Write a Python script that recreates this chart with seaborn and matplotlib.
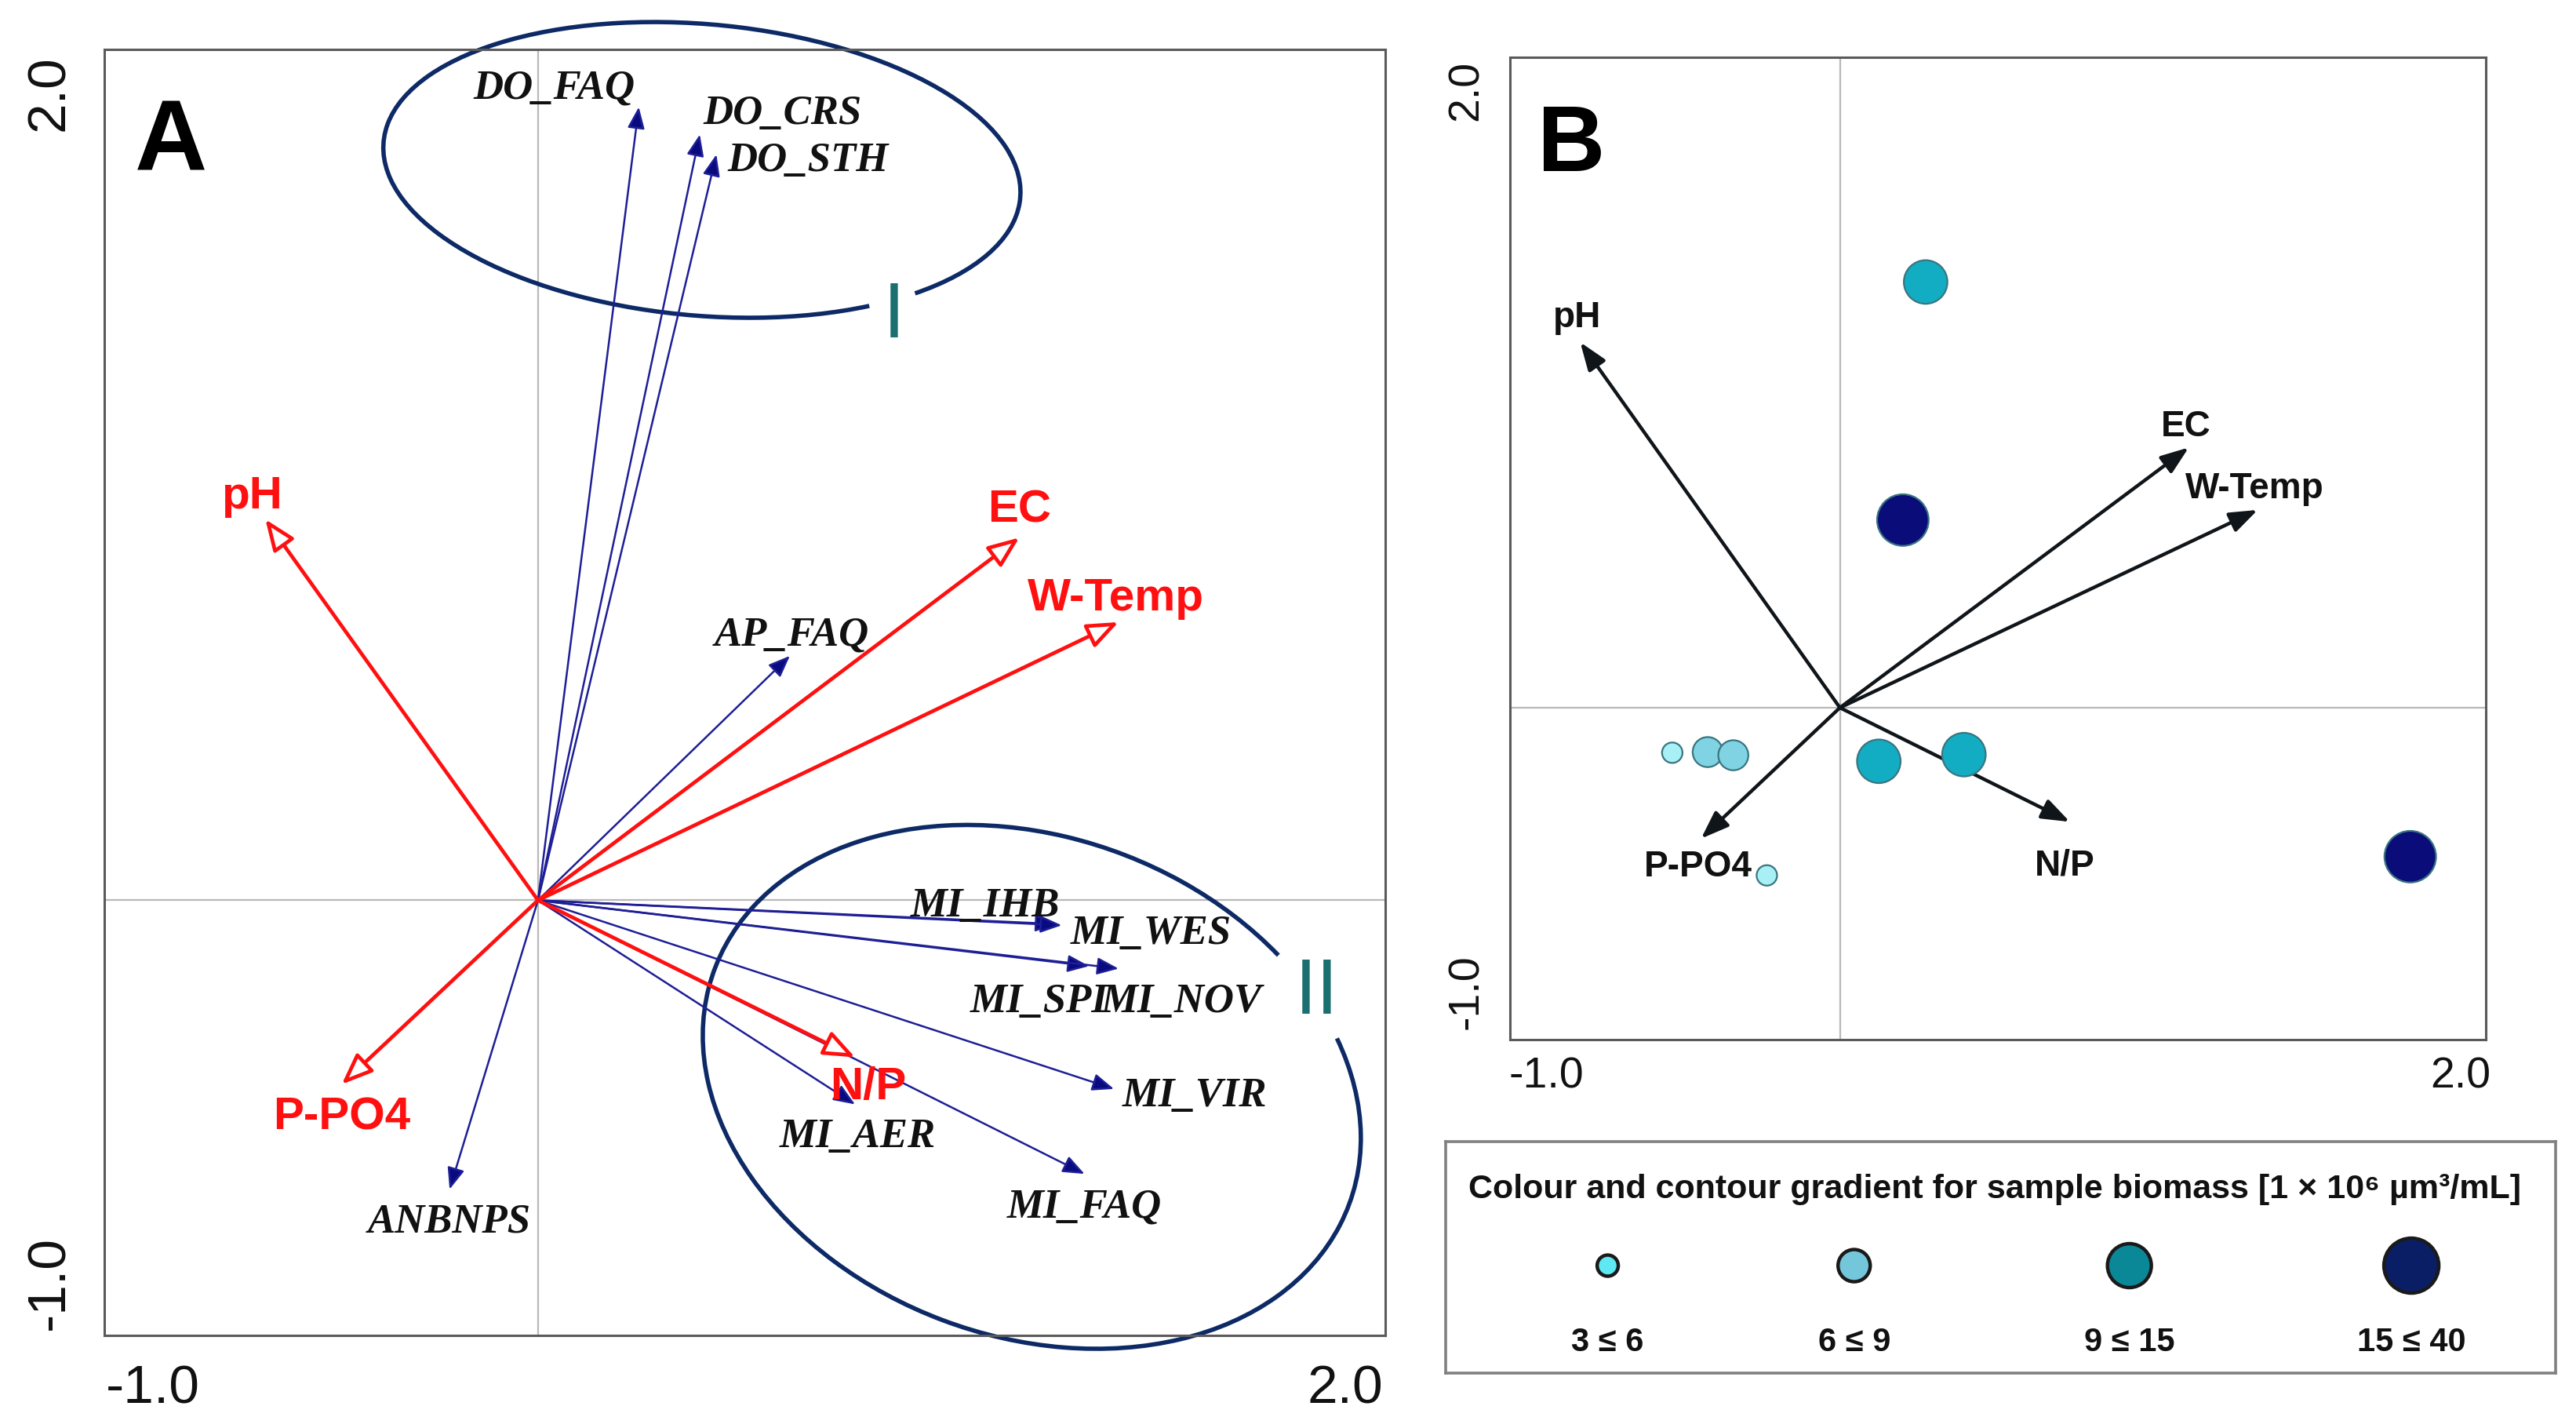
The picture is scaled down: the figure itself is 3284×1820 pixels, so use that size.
import numpy as np
import pandas as pd
import matplotlib
matplotlib.use("Agg")
import matplotlib.pyplot as plt
import seaborn as sns
from matplotlib.patches import Arc
from matplotlib.transforms import ScaledTranslation

# ------------------------------------------------------------------ data
# Panel A: environmental variables (red) and taxa (blue)
env_names = ["pH", "EC", "W-Temp", "P-PO4", "N/P"]
envA_x = [-0.657, 1.160, 1.399, -0.473, 0.764]
envA_y = [0.915, 0.871, 0.668, -0.442, -0.377]

taxa_names = ["DO_FAQ", "DO_CRS", "DO_STH", "AP_FAQ", "MI_IHB", "MI_WES",
              "MI_SPI", "MI_NOV", "MI_VIR", "MI_AER", "MI_FAQ", "ANBNPS"]
taxa_x = [0.243, 0.390, 0.430, 0.607, 1.250, 1.262,
          1.328, 1.399, 1.388, 0.764, 1.317, -0.213]
taxa_y = [1.905, 1.839, 1.791, 0.587, -0.057, -0.060,
          -0.158, -0.164, -0.453, -0.490, -0.657, -0.694]

# groups (ellipses) in panel A
group_names = ["I", "II"]
group_cx = [0.395, 1.190]
group_cy = [1.754, -0.448]
group_w = [1.54, 1.63]
group_h = [0.70, 1.20]
group_angle = [-5, -20]
group_label_x = [0.858, 1.876]
group_label_y = [1.421, -0.203]

# Panel B: environmental variables and samples
envB_x = [-0.821, 1.103, 1.321, -0.439, 0.727]
envB_y = [1.153, 0.821, 0.624, -0.413, -0.360]

sample_x = [0.271, 0.199, -0.530, -0.418, -0.337, 0.123, 0.392, -0.231, 1.803]
sample_y = [1.343, 0.592, -0.142, -0.140, -0.150, -0.169, -0.148, -0.529, -0.470]
sample_class = ["9 \u2264 15", "15 \u2264 40", "3 \u2264 6", "6 \u2264 9", "6 \u2264 9",
                "9 \u2264 15", "9 \u2264 15", "3 \u2264 6", "15 \u2264 40"]
biomass_classes = ["3 \u2264 6", "6 \u2264 9", "9 \u2264 15", "15 \u2264 40"]

tick_values = [-1.0, -0.5, 0.0, 0.5, 1.0, 1.5, 2.0]
tick_labels = ["-1.0", "", "", "", "", "", "2.0"]

legend_title = "Colour and contour gradient for sample biomass [1 \u00d7 10\u2076 \u00b5m\u00b3/mL]"

# ------------------------------------------------------------------ styles
plot_palette = dict(zip(biomass_classes, ["#a8f0f6", "#7fd3e3", "#12adc3", "#0a0c7a"]))
plot_sizes = dict(zip(biomass_classes, [88, 190, 400, 560]))
legend_palette = dict(zip(biomass_classes, ["#5ee8f2", "#74c6da", "#0b8898", "#0a1e66"]))
legend_sizes = dict(zip(biomass_classes, [94, 218, 406, 635]))

envA_off = [(-6.2, 12.4), (0, 14.5), (-1.2, 12.8), (0, -13.2), (6.2, -11.6)]
taxa_off = [(-39, 10.7), (38, 11.6), (42, -0.8), (0.8, 11.6), (-33, 10.3), (41, -2),
            (-23, -14.5), (29, -13.2), (37, -1.2), (1.2, -12.8), (0, -13.2), (0, -13.2)]
envB_off = [(-1.5, 13.2), (-1.5, 11.4), (-1.5, 11.4), (-1.5, -11.4), (-2.2, -18.5)]
group_gap = [(-25, 326), (48, 389)]

sns.set_style("white")
plt.rcParams["font.family"] = ["Liberation Sans", "DejaVu Sans"]

fig = plt.figure(figsize=(16.42, 9.10), dpi=200)
axA = fig.add_axes([0.0405, 0.0648, 0.4973, 0.9005])
axB = fig.add_axes([0.5863, 0.2720, 0.3787, 0.6879])
axL = fig.add_axes([0.5612, 0.0385, 0.4309, 0.1621])

SPINE = "#5a5a5a"
ZERO = "#b8b8b8"


def px(v):
    return v / 200.0


def style_axis(ax, fs, padx, pady, tlen, xshift, yshift):
    ax.set_xticks(tick_values)
    ax.set_xticklabels(tick_labels)
    ax.set_yticks(tick_values)
    ax.set_yticklabels(tick_labels)
    ax.tick_params(axis="both", direction="inout", length=tlen, width=1.0,
                   color="#333333", labelsize=fs, labelcolor="#111111")
    ax.tick_params(axis="x", pad=padx)
    ax.tick_params(axis="y", pad=pady, labelrotation=90)
    for s in ax.spines.values():
        s.set_visible(True)
        s.set_color(SPINE)
        s.set_linewidth(1.1)
    xl = ax.get_xticklabels()
    xl[0].set_ha("left")
    xl[-1].set_ha("right")
    xl[0].set_transform(xl[0].get_transform() + ScaledTranslation(px(xshift[0]), 0, fig.dpi_scale_trans))
    xl[-1].set_transform(xl[-1].get_transform() + ScaledTranslation(px(xshift[1]), 0, fig.dpi_scale_trans))
    yl = ax.get_yticklabels()
    yl[0].set_va("bottom")
    yl[-1].set_va("top")
    yl[0].set_transform(yl[0].get_transform() + ScaledTranslation(0, px(yshift[0]), fig.dpi_scale_trans))
    yl[-1].set_transform(yl[-1].get_transform() + ScaledTranslation(0, px(yshift[1]), fig.dpi_scale_trans))
    ax.axhline(0, color=ZERO, lw=0.8, zorder=0)
    ax.axvline(0, color=ZERO, lw=0.8, zorder=0)


def arrow(ax, x, y, ec, fc, lw, style, ms, z=3):
    ax.annotate("", xy=(x, y), xytext=(0, 0), xycoords="data", textcoords="data",
                arrowprops=dict(arrowstyle=style, ec=ec, fc=fc, lw=lw, mutation_scale=ms,
                                shrinkA=0, shrinkB=0),
                annotation_clip=False, zorder=z)


# ------------------------------------------------------------------ panel A
axA.set_xlim(-1.045, 2.042)
axA.set_ylim(-1.045, 2.043)
style_axis(axA, 25, 9.8, 10.4, 6.5, (-22, 19), (-17, 16))

for cx, cy, w, h, ang, (t1, t2) in zip(group_cx, group_cy, group_w, group_h, group_angle, group_gap):
    axA.add_patch(Arc((cx, cy), w, h, angle=ang, theta1=t1, theta2=t2,
                      color="#0d2a66", lw=2.0, clip_on=False, zorder=2))
for name, lx, ly in zip(group_names, group_label_x, group_label_y):
    axA.text(lx, ly, name, color="#1c6f70", fontsize=36, ha="center", va="center_baseline",
             zorder=4)

for name, x, y, off in zip(taxa_names, taxa_x, taxa_y, taxa_off):
    arrow(axA, x, y, "#1e1e96", "#0a0a80", 0.9, "-|>,head_length=0.6,head_width=0.24", 14, z=3)
    axA.annotate(name, xy=(x, y), xytext=off, textcoords="offset points",
                 ha="center", va="center_baseline", fontsize=19, color="#111111",
                 family=["Liberation Serif", "DejaVu Serif"], style="italic",
                 weight="bold", zorder=6, annotation_clip=False)

for name, x, y, off in zip(env_names, envA_x, envA_y, envA_off):
    arrow(axA, x, y, "#ff1010", "white", 1.7, "-|>,head_length=0.55,head_width=0.22", 22, z=4)
    axA.annotate(name, xy=(x, y), xytext=off, textcoords="offset points",
                 ha="center", va="center_baseline", fontsize=21, color="#ff1010",
                 weight="bold", zorder=6, annotation_clip=False)

axA.text(0.0239, 0.906, "A", transform=axA.transAxes, fontsize=46, weight="bold",
         ha="left", va="baseline", color="black")

# ------------------------------------------------------------------ panel B
dfB = pd.DataFrame({"x": sample_x, "y": sample_y, "cls": sample_class})
sns.scatterplot(data=dfB, x="x", y="y", hue="cls", size="cls",
                hue_order=biomass_classes, size_order=biomass_classes,
                palette=plot_palette, sizes=plot_sizes, edgecolor="#3a7580",
                linewidth=0.8, legend=False, ax=axB, zorder=5)
axB.set_xlabel("")
axB.set_ylabel("")
axB.set_xlim(-1.042, 2.042)
axB.set_ylim(-1.047, 2.052)
style_axis(axB, 20, 5.5, 8.5, 4.5, (-19, 23), (-6, 17))

for name, x, y, off in zip(env_names, envB_x, envB_y, envB_off):
    arrow(axB, x, y, "#10151a", "#10151a", 1.6, "-|>,head_length=0.6,head_width=0.22", 18, z=3)
    axB.annotate(name, xy=(x, y), xytext=off, textcoords="offset points",
                 ha="center", va="center_baseline", fontsize=16.5, color="#111111",
                 weight="bold", zorder=6, annotation_clip=False)

axB.text(0.0277, 0.884, "B", transform=axB.transAxes, fontsize=43, weight="bold",
         ha="left", va="baseline", color="black")

# ------------------------------------------------------------------ legend box
leg_df = pd.DataFrame({"pos": [0.146, 0.368, 0.616, 0.870], "y": [0.464] * 4,
                       "cls": biomass_classes})
sns.scatterplot(data=leg_df, x="pos", y="y", hue="cls", size="cls",
                hue_order=biomass_classes, size_order=biomass_classes,
                palette=legend_palette, sizes=legend_sizes, edgecolor="#1a1a1a",
                linewidth=1.6, legend=False, ax=axL, zorder=3)
axL.set_xlim(0, 1)
axL.set_ylim(0, 1)
axL.set_xlabel("")
axL.set_ylabel("")
axL.set_xticks([])
axL.set_yticks([])
for s in axL.spines.values():
    s.set_visible(True)
    s.set_color("#808080")
    s.set_linewidth(1.3)
axL.text(0.495, 0.807, legend_title, transform=axL.transAxes, ha="center",
         va="center_baseline", fontsize=15.5, weight="bold", color="#111111")
for p, c in zip(leg_df["pos"], biomass_classes):
    axL.text(p, 0.146, c, transform=axL.transAxes, ha="center", va="center_baseline",
             fontsize=15, weight="bold", color="#111111")

fig.savefig("out.png", dpi=200)
